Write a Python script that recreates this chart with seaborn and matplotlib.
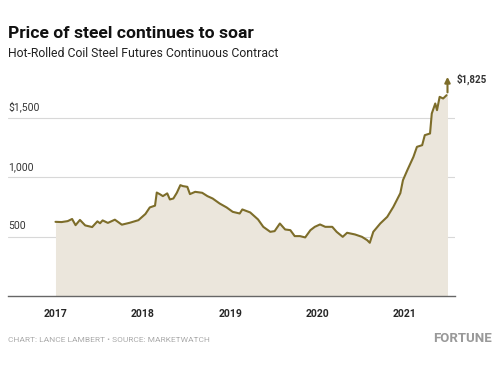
import matplotlib
matplotlib.use("Agg")
import matplotlib.pyplot as plt
import matplotlib.transforms as mtransforms
import seaborn as sns
import pandas as pd

# hot-rolled coil futures (decimal year, $ per ton)
years = [2017.00, 2017.07, 2017.14, 2017.19, 2017.23, 2017.28, 2017.34, 2017.42,
         2017.48, 2017.51, 2017.54, 2017.60, 2017.68, 2017.76, 2017.85, 2017.95,
         2018.03, 2018.08, 2018.14, 2018.16, 2018.20, 2018.23, 2018.28, 2018.31,
         2018.35, 2018.39, 2018.43, 2018.46, 2018.51, 2018.54, 2018.60, 2018.68,
         2018.74, 2018.80, 2018.88, 2018.96, 2019.03, 2019.11, 2019.14, 2019.23,
         2019.32, 2019.38, 2019.46, 2019.51, 2019.57, 2019.63, 2019.69, 2019.74,
         2019.80, 2019.86, 2019.92, 2019.97, 2020.03, 2020.09, 2020.17, 2020.22,
         2020.29, 2020.34, 2020.43, 2020.51, 2020.57, 2020.60, 2020.64, 2020.72,
         2020.80, 2020.87, 2020.95, 2020.98, 2021.03, 2021.10, 2021.14, 2021.20,
         2021.23, 2021.29, 2021.31, 2021.35, 2021.37, 2021.40, 2021.44, 2021.48]
prices = [624, 622, 630, 648, 596, 640, 594, 580,
          628, 612, 636, 615, 642, 600, 616, 638,
          690, 745, 760, 870, 854, 840, 863, 812,
          820, 868, 932, 924, 918, 857, 876, 868,
          840, 820, 778, 745, 708, 694, 728, 703,
          644, 582, 540, 546, 610, 560, 554, 504,
          504, 493, 554, 582, 602, 582, 582, 540,
          498, 532, 518, 498, 470, 448, 540, 610,
          666, 750, 865, 974, 1058, 1170, 1254, 1268,
          1352, 1366, 1534, 1618, 1562, 1674, 1660, 1688]
last_year = 2021.49
last_price = 1825

grid_values = [500, 1000, 1500]
grid_labels = ["500", "1,000", "$1,500"]
year_ticks = [2017, 2018, 2019, 2020, 2021]

df = pd.DataFrame({"year": years, "price": prices})

sns.set_style("white")
plt.rcParams['font.family'] = ['Roboto', 'DejaVu Sans']

line_color = "#7d6d2a"
fill_color = "#ebe6dc"

fig = plt.figure(figsize=(5, 3.72), dpi=100)
ax = fig.add_axes([0.016, 0.204, 0.894, 0.64])

full_x = years + [last_year]
full_y = prices + [prices[-1]]
ax.fill_between(full_x, 0, full_y, color=fill_color, lw=0, zorder=1)

for v, lab in zip(grid_values, grid_labels):
    ax.axhline(v, color="#d8d8d8", lw=0.8, zorder=0.5)
    ax.text(0, v + 45, lab, transform=mtransforms.blended_transform_factory(ax.transAxes, ax.transData),
            ha="left", va="bottom", fontsize=7.5, color="#333333")

sns.lineplot(data=df, x="year", y="price", ax=ax, color=line_color, lw=1.5, zorder=3)
ax.plot([years[-1], last_year], [prices[-1], prices[-1]], color=line_color, lw=1.5, zorder=3)
ax.annotate("", xy=(last_year, last_price + 40), xytext=(last_year, prices[-1]),
            arrowprops=dict(arrowstyle="-|>", color=line_color, lw=1.5, mutation_scale=8),
            zorder=4, annotation_clip=False)
ax.text(last_year + 0.1, last_price, "$1,825", ha="left", va="center",
        fontsize=7, fontweight="bold", color="#333333")

ax.set_xlim(2016.456, 2021.576)
ax.set_ylim(0, 2000)
ax.set_xticks(year_ticks)
ax.set_xticklabels([str(y) for y in year_ticks], fontweight="bold", fontsize=7.5)
ax.set_yticks([])
ax.set_xlabel("")
ax.set_ylabel("")
ax.tick_params(axis="x", length=3, width=0.8, color="#666666", pad=6)
for s in ["top", "right", "left"]:
    ax.spines[s].set_visible(False)
ax.spines["bottom"].set_color("#666666")
ax.spines["bottom"].set_linewidth(1.0)

fig.text(0.016, 0.911, "Price of steel continues to soar", fontsize=12.6,
         fontweight="bold", va="center", ha="left", color="#111111")
fig.text(0.016, 0.855, "Hot-Rolled Coil Steel Futures Continuous Contract",
         fontsize=8.8, va="center", ha="left", color="#222222")
fig.text(0.016, 0.086, "CHART: LANCE LAMBERT \u2022 SOURCE: MARKETWATCH",
         fontsize=6.0, va="center", ha="left", color="#aaaaaa")
fig.text(0.984, 0.09, "FORTUNE", fontsize=9.5, fontweight="bold",
         va="center", ha="right", color="#999999")

fig.savefig("out.png", dpi=100)
